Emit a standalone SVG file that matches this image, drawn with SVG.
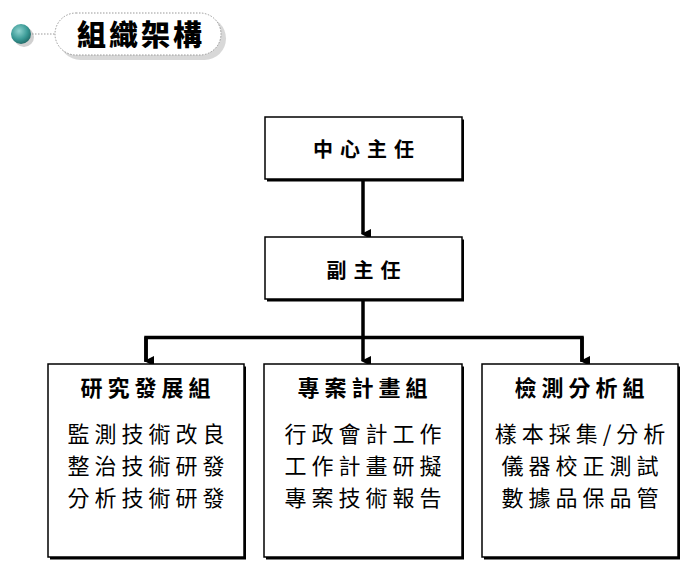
<svg xmlns="http://www.w3.org/2000/svg" width="700" height="576" viewBox="0 0 700 576">
<defs>
<radialGradient id="ball" cx="0.4" cy="0.35" r="0.7">
<stop offset="0" stop-color="#8fd3cf"/>
<stop offset="0.6" stop-color="#3a9a96"/>
<stop offset="1" stop-color="#1f6663"/>
</radialGradient>
<marker id="arr" markerWidth="10" markerHeight="10" refX="5" refY="8" orient="auto" markerUnits="userSpaceOnUse" viewBox="0 0 10 10">
<path d="M0,0 L10,0 L5,10 Z" fill="#000"/>
</marker>
</defs>
<style>
.box{fill:#fff;stroke:#000;stroke-width:1.5}
.shadow{fill:#000}
.t{font-family:"Noto Sans CJK TC","Noto Sans CJK SC",sans-serif;fill:#000;text-anchor:middle}
.head{font-size:20px;font-weight:bold;letter-spacing:7px}
.gt{font-size:22px;font-weight:bold;letter-spacing:5px}
.ln{font-size:22px;letter-spacing:5px}
.conn{fill:none;stroke:#000;stroke-width:3.5}
</style>
<rect width="700" height="576" fill="#fff"/>
<g id="header">
<circle cx="24" cy="37" r="10" fill="#d0d0d0"/>
<circle cx="21" cy="34" r="10" fill="url(#ball)"/>
<line x1="32" y1="34" x2="56" y2="34" stroke="#999" stroke-width="1" stroke-dasharray="1.5,1.5"/>
<rect x="59" y="17" width="167" height="43" rx="21.5" fill="#d8d8d8"/>
<rect x="55" y="13" width="166" height="42" rx="21" fill="#fff" stroke="#999" stroke-width="1" stroke-dasharray="1.5,1.5"/>
<text x="141" y="46" class="t" style="font-size:29px;font-weight:900;letter-spacing:3px">組織架構</text>
</g>
<g id="connectors">
<line class="conn" x1="363" y1="180" x2="363" y2="234" marker-end="url(#arr)"/>
<path class="conn" d="M363,300 V337.5"/>
<path class="conn" d="M146,362 V337.5 H582 V362"/>
<line class="conn" x1="146" y1="337" x2="146" y2="361" marker-end="url(#arr)"/>
<line class="conn" x1="363" y1="337" x2="363" y2="361" marker-end="url(#arr)"/>
<line class="conn" x1="582" y1="337" x2="582" y2="361" marker-end="url(#arr)"/>
</g>
<g id="director">
<rect class="shadow" x="267" y="119.5" width="197" height="62"/>
<rect class="box" x="265" y="117" width="197" height="62"/>
<text class="t head" x="367" y="157">中心主任</text>
</g>
<g id="deputy">
<rect class="shadow" x="267" y="239.5" width="197" height="62"/>
<rect class="box" x="265" y="237" width="197" height="62"/>
<text class="t head" x="367" y="278">副主任</text>
</g>
<g id="rd">
<rect class="shadow" x="50" y="366.5" width="196" height="193"/>
<rect class="box" x="48" y="364" width="196" height="193"/>
<text class="t gt" x="148" y="396">研究發展組</text>
<text class="t ln" x="148.5" y="442">監測技術改良</text>
<text class="t ln" x="148.5" y="474">整治技術研發</text>
<text class="t ln" x="148.5" y="506">分析技術研發</text>
</g>
<g id="project">
<rect class="shadow" x="266" y="366.5" width="198" height="193"/>
<rect class="box" x="264" y="364" width="198" height="193"/>
<text class="t gt" x="365" y="396">專案計畫組</text>
<text class="t ln" x="365.5" y="442">行政會計工作</text>
<text class="t ln" x="365.5" y="474">工作計畫研擬</text>
<text class="t ln" x="365.5" y="506">專案技術報告</text>
</g>
<g id="analysis">
<rect class="shadow" x="484" y="366.5" width="196" height="193"/>
<rect class="box" x="482" y="364" width="196" height="193"/>
<text class="t gt" x="582" y="396">檢測分析組</text>
<text class="t ln" x="582.5" y="442">樣本採集/分析</text>
<text class="t ln" x="582.5" y="474">儀器校正測試</text>
<text class="t ln" x="582.5" y="506">數據品保品管</text>
</g>
</svg>
